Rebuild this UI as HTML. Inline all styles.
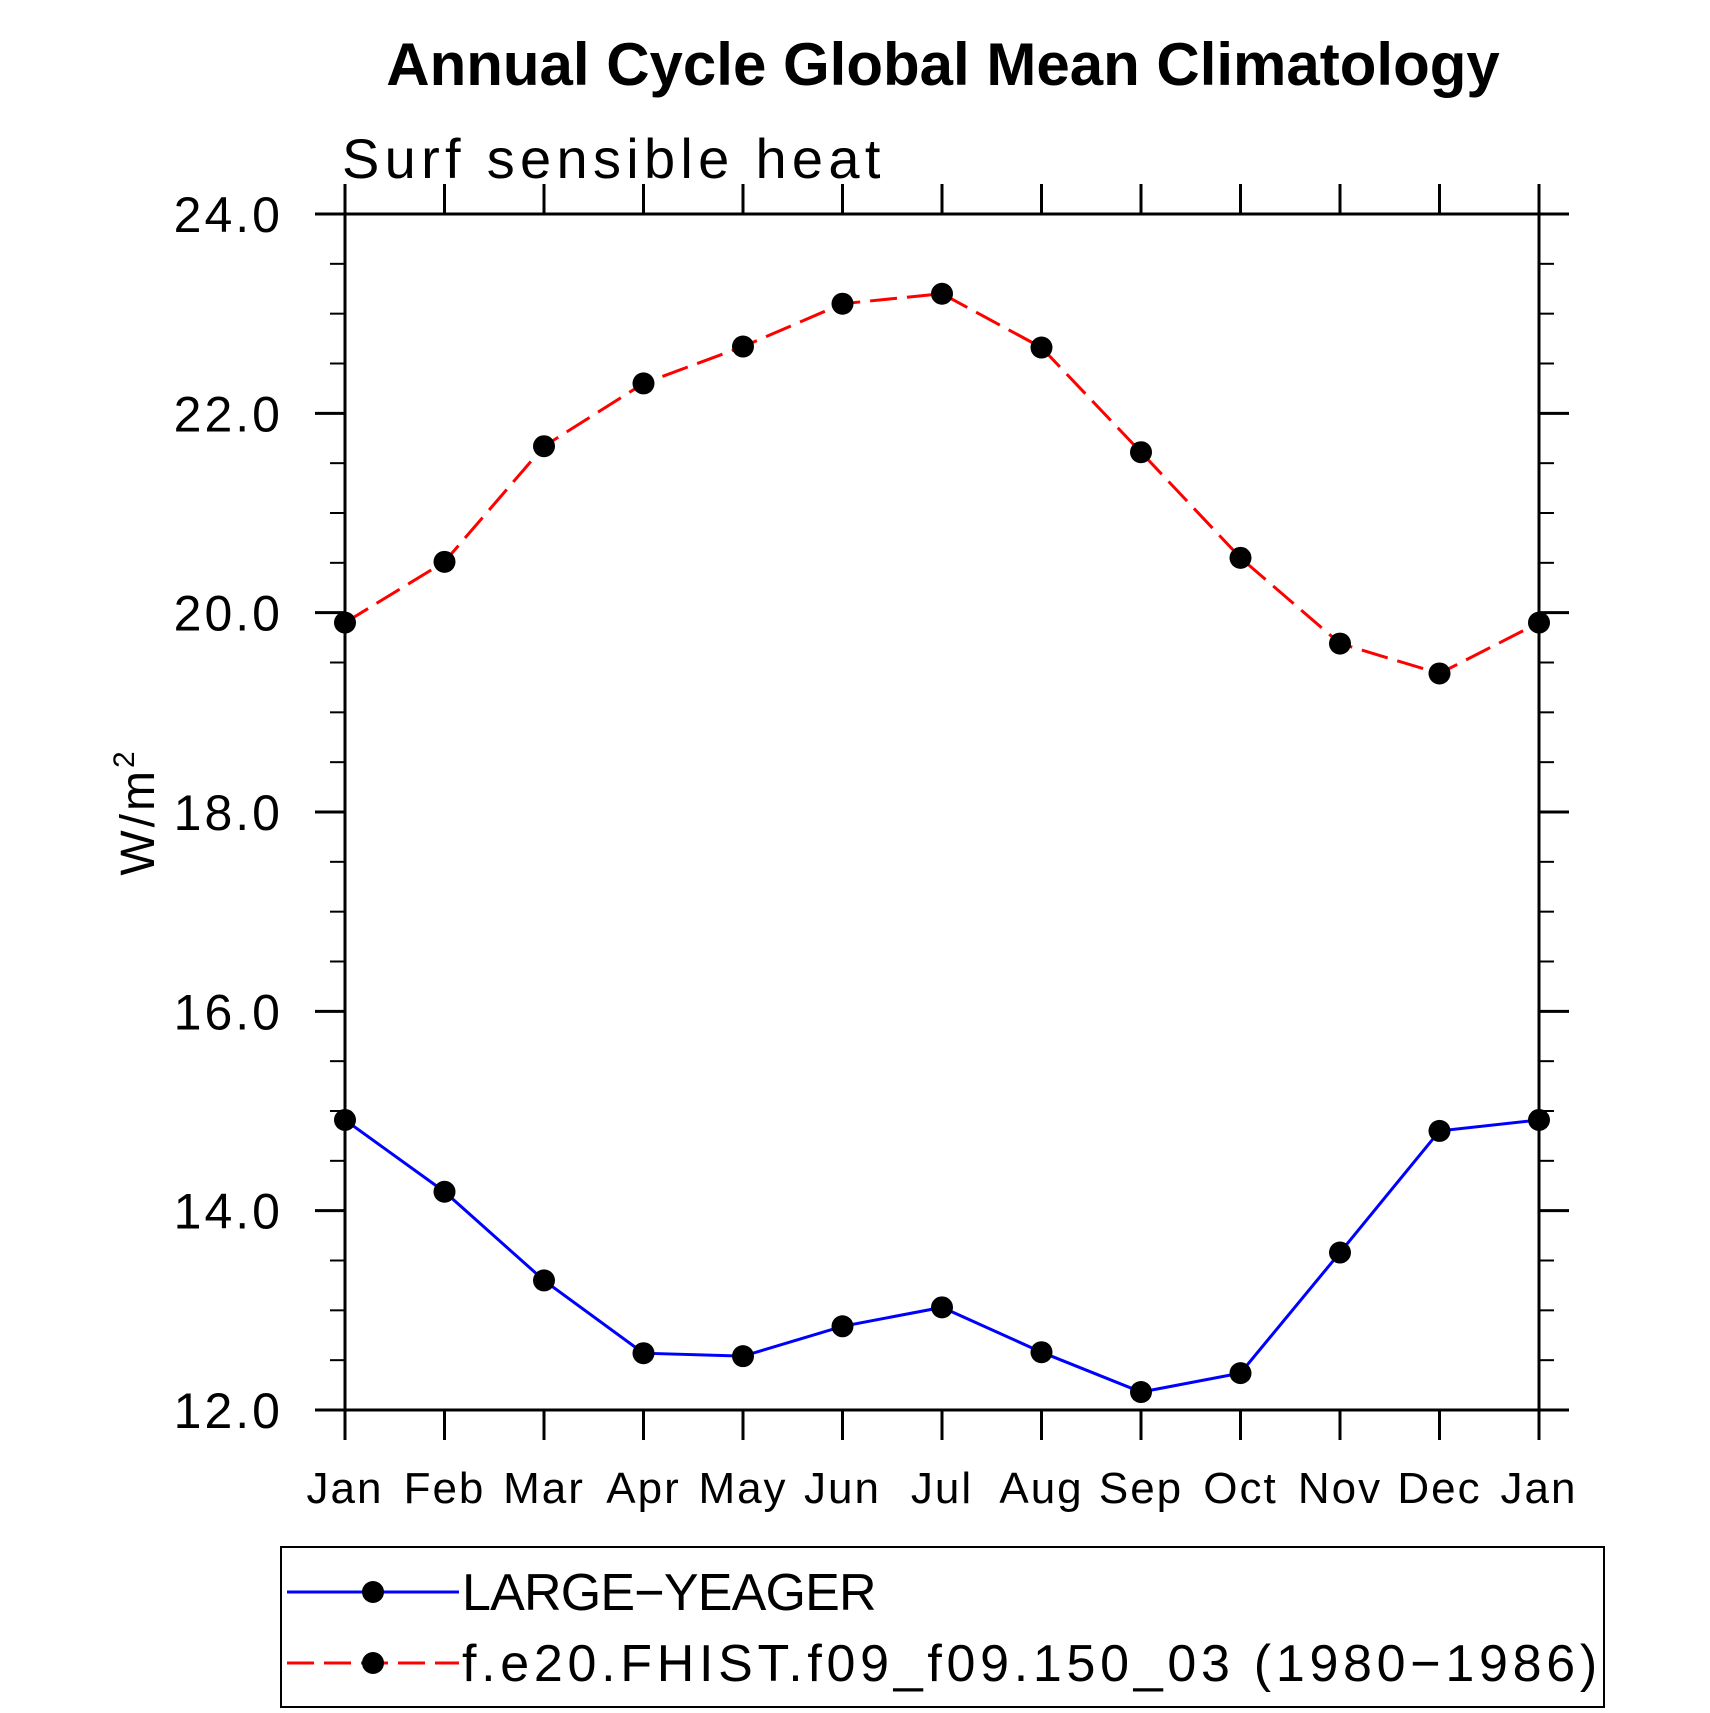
<!DOCTYPE html>
<html><head><meta charset="utf-8"><style>
html,body{margin:0;padding:0;background:#fff;}
svg{display:block;font-family:"Liberation Sans",sans-serif;}
</style></head><body>
<svg id="chart" width="1710" height="1713" viewBox="0 0 1710 1713" xmlns="http://www.w3.org/2000/svg">
<text x="943" y="85" text-anchor="middle" font-size="60" font-weight="bold">Annual Cycle Global Mean Climatology</text>
<text x="342" y="178" font-size="56" font-weight="300" letter-spacing="5.3">Surf sensible heat</text>
<text transform="translate(154,812) rotate(-90)" text-anchor="middle" font-size="48" font-weight="300" letter-spacing="3">W/m<tspan dy="-20" font-size="30">2</tspan></text>
<g id="axes"></g>
<g id="series"></g>
<g>
<rect x="281" y="1547" width="1323" height="160" fill="none" stroke="#000" stroke-width="2"/>
<g>
<line x1="287" y1="1592" x2="459" y2="1592" stroke="#0000ff" stroke-width="3"/>
<circle cx="373" cy="1592" r="11" fill="#000"/>
<text x="462" y="1610" font-size="52" font-weight="300" letter-spacing="-0.8">LARGE−YEAGER</text>
</g>
<g>
<line x1="287" y1="1663" x2="459" y2="1663" stroke="#ff0000" stroke-width="3" stroke-dasharray="27 10"/>
<circle cx="373" cy="1663" r="11" fill="#000"/>
<text x="462" y="1681" font-size="52" font-weight="300" letter-spacing="4.7">f.e20.FHIST.f09_f09.150_03 (1980−1986)</text>
</g>
</g>
</svg>
<script>
const months = ["Jan","Feb","Mar","Apr","May","Jun","Jul","Aug","Sep","Oct","Nov","Dec","Jan"];
const largeYeager = [14.91,14.19,13.30,12.57,12.54,12.84,13.03,12.58,12.18,12.37,13.58,14.80,14.91];
const fhist = [19.90,20.51,21.67,22.30,22.67,23.10,23.20,22.66,21.61,20.55,19.69,19.39,19.90];
const yTicks = [12,14,16,18,20,22,24];
const yTickLabels = ["12.0","14.0","16.0","18.0","20.0","22.0","24.0"];
const yMin = 12, yMax = 24;

const L=345,R=1539,T=214,B=1410;
const NS="http://www.w3.org/2000/svg";
function xs(i){return L+(R-L)*i/(months.length-1);}
function ys(v){return B-(B-T)*(v-yMin)/(yMax-yMin);}
function mk(tag,attrs,parent){const e=document.createElementNS(NS,tag);for(const k in attrs)e.setAttribute(k,attrs[k]);parent.appendChild(e);return e;}
const ax=document.getElementById('axes');
const frame=mk('rect',{x:L,y:T,width:R-L,height:B-T,fill:'none',stroke:'#000','stroke-width':3},ax);


months.forEach((m,i)=>{
  const x=xs(i);
  const t1=mk('line',{x1:x,y1:B,x2:x,y2:B+30,stroke:'#000','stroke-width':3},ax);
  
  
  const t2=mk('line',{x1:x,y1:T,x2:x,y2:T-30,stroke:'#000','stroke-width':3},ax);
  
  
  const tx=mk('text',{x:x,y:1503,'text-anchor':'middle','font-size':44,'font-weight':300,'letter-spacing':2},ax);
  tx.textContent=m;
  
  
});
for(let v=yMin;v<=yMax+1e-9;v+=0.5){
  const y=ys(v);const major=Math.abs(v-Math.round(v/2)*2)<1e-9;const len=major?30:15;
  const a=mk('line',{x1:L,y1:y,x2:L-len,y2:y,stroke:'#000','stroke-width':major?3:2},ax);
  
  
  const b=mk('line',{x1:R,y1:y,x2:R+len,y2:y,stroke:'#000','stroke-width':major?3:2},ax);
  
  
}
yTicks.forEach((v,i)=>{
  const tx=mk('text',{x:283,y:ys(v)+18,'text-anchor':'end','font-size':50,'font-weight':300,'letter-spacing':3},ax);
  tx.textContent=yTickLabels[i];
  
  
});
const sg=document.getElementById('series');
function drawSeries(vals,color,dash,name){
  const pts=vals.map((v,i)=>xs(i)+','+ys(v)).join(' ');
  const pl=mk('polyline',{points:pts,fill:'none',stroke:color,'stroke-width':3},sg);
  if(dash)pl.setAttribute('stroke-dasharray',dash);
  
  
  vals.forEach((v,i)=>{
    const c=mk('circle',{cx:xs(i),cy:ys(v),r:11,fill:'#000'},sg);
    
    
  });
}
drawSeries(fhist,'#ff0000','27 10','fhist');
drawSeries(largeYeager,'#0000ff',null,'large-yeager');
</script>
</body></html>
